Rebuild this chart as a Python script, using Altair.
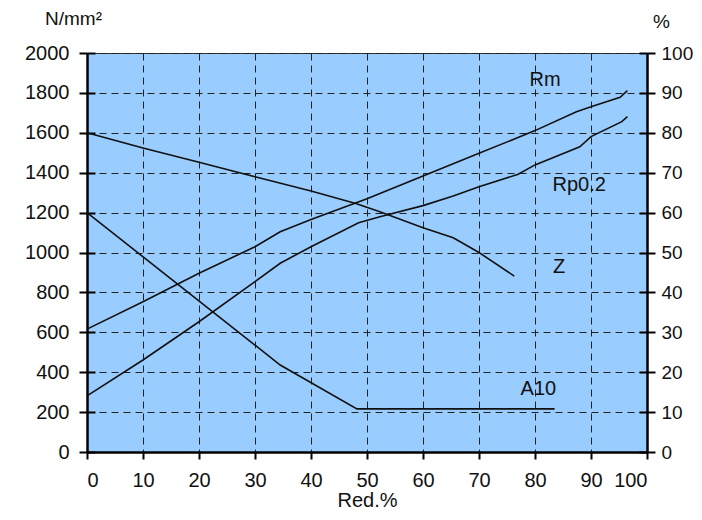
import altair as alt
import pandas as pd

# ---- data ----
rm_x = [0, 10, 20, 30, 34.5, 40, 50, 60, 70, 80, 87.4, 90, 95.2, 96.5]
rm_y = [616, 753, 896, 1029, 1104, 1166, 1270, 1383, 1497, 1611, 1706, 1731, 1778, 1811]

rp_x = [0, 10, 20, 30, 34.5, 40, 48.5, 52.3, 60, 65.4, 70, 77, 80, 88, 90, 95.5, 96.5]
rp_y = [281, 461, 653, 854, 946, 1029, 1149, 1179, 1235, 1283, 1330, 1392, 1439, 1530, 1581, 1656, 1681]

z_x = [0, 10, 20, 30, 40, 48, 52.3, 60, 65.4, 70, 76.3]
z_y = [80, 76.2, 72.6, 69, 65.4, 62.3, 60.2, 56.2, 53.7, 50, 44.1]

a10_x = [0, 34.5, 48.2, 83.5]
a10_y = [60, 21.8, 10.8, 10.8]

label_text = ["Rm", "Rp0.2", "Z", "A10"]
label_x = [81.8, 87.9, 84.3, 80.6]
label_y = [1865, 1338, 929, 316]  # in N/mm² units

x_ticks = list(range(0, 101, 10))
left_ticks = list(range(0, 2001, 200))
right_ticks = list(range(0, 101, 10))

FONT = "Liberation Sans"

left_df = pd.DataFrame(
    {"red": rm_x + rp_x, "val": rm_y + rp_y,
     "series": ["Rm"] * len(rm_x) + ["Rp0.2"] * len(rp_x),
     "order": list(range(len(rm_x))) + list(range(len(rp_x)))}
)
right_df = pd.DataFrame(
    {"red": z_x + a10_x, "pct": z_y + a10_y,
     "series": ["Z"] * len(z_x) + ["A10"] * len(a10_x),
     "order": list(range(len(z_x))) + list(range(len(a10_x)))}
)
lab_df = pd.DataFrame({"red": label_x, "val": label_y, "txt": label_text})

xscale = alt.Scale(domain=[0, 100], nice=False, zero=False)
yscale = alt.Scale(domain=[0, 2000], nice=False)
pscale = alt.Scale(domain=[0, 100], nice=False)

xaxis = alt.Axis(
    values=x_ticks, format="d", labelOverlap=False, title="Red.%", grid=True,
    gridDash=[7, 5], gridColor="#222", gridWidth=1, gridOpacity=1,
    domainColor="#000", domainWidth=2.5, tickColor="#000", tickWidth=2, tickSize=7,
    labelFont=FONT, labelFontSize=20, labelPadding=11, labelColor="#111",
    titleFont=FONT, titleFontSize=20, titleFontWeight="normal", titleColor="#111",
    titlePadding=0,
)

left_axis = alt.Axis(
    values=left_ticks, format="d", labelOverlap=False, title="N/mm²", grid=True,
    gridDash=[7, 5], gridColor="#222", gridWidth=1, gridOpacity=1,
    domainColor="#000", domainWidth=2.5, tickColor="#000", tickWidth=2, tickSize=8,
    labelFont=FONT, labelFontSize=20, labelPadding=10, labelColor="#111",
    titleFont=FONT, titleFontSize=19, titleFontWeight="normal", titleColor="#111",
    titleAngle=0, titleX=-14, titleY=-29, titleAlign="center", titleBaseline="alphabetic",
)
left_inner_axis = alt.Axis(
    orient="left", values=left_ticks, offset=-8, labels=False, domain=False, grid=False,
    ticks=True, tickColor="#000", tickWidth=2, tickSize=8, title=None,
)

right_axis = alt.Axis(
    orient="right", values=right_ticks, format="d", labelOverlap=False, title="%", grid=False,
    domainColor="#000", domainWidth=2.5, tickColor="#000", tickWidth=2, tickSize=8,
    labelFont=FONT, labelFontSize=19, labelPadding=6, labelColor="#111",
    titleFont=FONT, titleFontSize=19, titleFontWeight="normal", titleColor="#111",
    titleAngle=0, titleX=14, titleY=-26, titleAlign="center", titleBaseline="alphabetic",
)
right_inner_axis = alt.Axis(
    orient="right", values=right_ticks, offset=-8, labels=False, domain=False, grid=False,
    ticks=True, tickColor="#000", tickWidth=2, tickSize=8, title=None,
)

left_lines = alt.Chart(left_df).mark_line(color="#111", strokeWidth=1.6).encode(
    x=alt.X("red:Q", scale=xscale, axis=xaxis),
    y=alt.Y("val:Q", scale=yscale, axis=left_axis),
    detail="series:N",
    order="order:Q",
)
labels = alt.Chart(lab_df).mark_text(
    font=FONT, fontSize=20, color="#111", align="center", baseline="middle"
).encode(
    x=alt.X("red:Q", scale=xscale, axis=xaxis),
    y=alt.Y("val:Q", scale=yscale, axis=left_axis),
    text="txt:N",
)
left_layer = alt.layer(left_lines, labels)

left_inner = alt.Chart(left_df).mark_line(strokeOpacity=0).encode(
    x=alt.X("red:Q", scale=xscale, axis=xaxis),
    y=alt.Y("val:Q", scale=yscale, axis=left_inner_axis),
    detail="series:N",
)

right_lines = alt.Chart(right_df).mark_line(color="#111", strokeWidth=1.6).encode(
    x=alt.X("red:Q", scale=xscale, axis=xaxis),
    y=alt.Y("pct:Q", scale=pscale, axis=right_axis),
    detail="series:N",
    order="order:Q",
)
right_inner = alt.Chart(right_df).mark_line(strokeOpacity=0).encode(
    x=alt.X("red:Q", scale=xscale, axis=xaxis),
    y=alt.Y("pct:Q", scale=pscale, axis=right_inner_axis),
    detail="series:N",
)

chart = (
    alt.layer(left_layer, right_lines, left_inner, right_inner)
    .resolve_scale(y="independent")
    .properties(
        width=560, height=399,
        autosize=alt.AutoSizeParams(type="none"),
        padding={"left": 79, "top": 45, "right": 47, "bottom": 60},
        background="white",
    )
    .configure_view(fill="#99CCFF", stroke="#333", strokeWidth=1)
)

chart.save("out.html", embed_options={"renderer": "svg", "actions": False})
